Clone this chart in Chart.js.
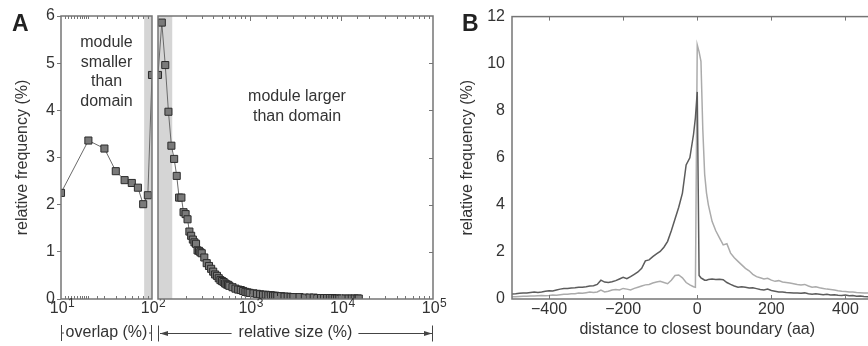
<!DOCTYPE html>
<html>
<head>
<meta charset="utf-8">
<script src="https://cdn.jsdelivr.net/npm/chart.js@4.4.0/dist/chart.umd.min.js"></script>
<style>
  html, body { margin: 0; padding: 0; background: #fff; }
  #wrap { position: relative; width: 868px; height: 346px; overflow: hidden; }
  canvas { position: absolute; top: 0; }
  #aLeft, #aRight { left: 0; }
  #b { left: 450px; }
</style>
</head>
<body>
<div id="wrap">
  <canvas id="aLeft" width="460" height="346"></canvas>
  <canvas id="aRight" width="460" height="346"></canvas>
  <canvas id="b" width="450" height="346"></canvas>
</div>
<script>
/* ======================================
        DATA
========================================*/
// panel A, left part: overlap (%)
const overlapPct  = [10, 20, 30, 40, 50, 60, 70, 80, 90, 100];
const overlapFreq = [2.25, 3.36, 3.19, 2.71, 2.52, 2.46, 2.36, 2.01, 2.20, 4.75];

// panel A, right part: relative size (%)
const sizePct = [100, 110, 120, 130, 140, 150, 160, 170, 180, 190,
  200, 210, 220, 230, 240, 250, 260, 270, 280, 290,
  300, 320, 340, 360, 380, 400, 420, 440, 460, 480,
  500, 520, 540, 560, 580, 600, 650, 700, 750, 800,
  850, 900, 950, 1000, 1100, 1200, 1300, 1400, 1500, 1600,
  1700, 1800, 1900, 2000, 2200, 2400, 2600, 2800, 3000, 3500,
  4000, 4500, 5000, 5500, 6000, 6500, 7000, 7500, 8000, 8500,
  9000, 9500, 10000, 11000, 12000, 13000, 14000, 15000, 15500];
const sizeFreq = [4.75, 5.86, 4.96, 3.97, 3.25, 2.97, 2.61, 2.15, 2.15, 1.84,
  1.80, 1.69, 1.43, 1.34, 1.26, 1.20, 1.17, 1.03, 1.02, 0.99,
  0.97, 0.88, 0.76, 0.70, 0.64, 0.58, 0.52, 0.49, 0.44, 0.40,
  0.38, 0.36, 0.33, 0.31, 0.30, 0.28, 0.25, 0.22, 0.20, 0.19,
  0.17, 0.15, 0.14, 0.13, 0.12, 0.11, 0.10, 0.09, 0.09, 0.08,
  0.08, 0.07, 0.07, 0.06, 0.06, 0.05, 0.05, 0.04, 0.04, 0.04,
  0.03, 0.03, 0.03, 0.02, 0.02, 0.02, 0.02, 0.02, 0.02, 0.01,
  0.01, 0.01, 0.01, 0.01, 0.01, 0.01, 0.01, 0.01, 0.01];

const overlapBand = [82, 100];
const sizeBand = [100, 143];

const freqTicks = [0, 1, 2, 3, 4, 5, 6];
const overlapTickVals = [10, 100];
const overlapTickExp = ['1', '2'];
const sizeTickVals = [1000, 10000, 100000];
const sizeTickExp = ['3', '4', '5'];

// panel B: distance to closest boundary (aa)
const distAA = [-500, -490, -480, -470, -460, -450, -440, -430, -420, -410,
  -400, -390, -380, -370, -360, -350, -340, -330, -320, -310,
  -300, -290, -280, -270, -260, -250, -240, -230, -220, -210,
  -200, -190, -180, -170, -160, -150, -140, -130, -120, -110,
  -100, -90, -80, -70, -60, -50, -40, -30, -20, -10,
  -5, 0, 5, 10, 15, 20, 25, 30, 40, 50,
  60, 70, 80, 90, 100, 110, 120, 130, 140, 150,
  160, 170, 180, 190, 200, 210, 220, 230, 240, 250,
  260, 270, 280, 290, 300, 310, 320, 330, 340, 350,
  360, 370, 380, 390, 400, 410, 420, 430, 440, 450,
  460, 470, 480, 490, 500];
const distDark = [0.21, 0.22, 0.24, 0.25, 0.26, 0.28, 0.30, 0.28, 0.30, 0.33,
  0.35, 0.34, 0.38, 0.42, 0.45, 0.45, 0.47, 0.48, 0.50, 0.50,
  0.52, 0.55, 0.56, 0.62, 0.80, 0.72, 0.70, 0.73, 0.78, 0.85,
  0.92, 0.86, 0.95, 1.05, 1.15, 1.30, 1.62, 1.66, 1.80, 1.92,
  2.02, 2.20, 2.45, 2.90, 3.40, 3.90, 4.50, 5.70, 6.00, 7.00,
  7.70, 8.80, 1.00, 0.90, 0.85, 0.80, 0.80, 0.83, 0.85, 0.83,
  0.84, 0.82, 0.70, 0.62, 0.55, 0.50, 0.52, 0.50, 0.47, 0.48,
  0.44, 0.40, 0.38, 0.42, 0.36, 0.33, 0.30, 0.30, 0.28, 0.27,
  0.25, 0.26, 0.24, 0.26, 0.22, 0.20, 0.22, 0.20, 0.18, 0.20,
  0.17, 0.18, 0.16, 0.15, 0.17, 0.14, 0.15, 0.12, 0.13, 0.11,
  0.10, 0.12, 0.09, 0.08, 0.08];
const distLight = [0.10, 0.10, 0.11, 0.12, 0.12, 0.13, 0.13, 0.14, 0.15, 0.14,
  0.15, 0.17, 0.16, 0.18, 0.20, 0.20, 0.22, 0.22, 0.25, 0.24,
  0.27, 0.30, 0.28, 0.30, 0.38, 0.30, 0.33, 0.38, 0.40, 0.38,
  0.45, 0.42, 0.38, 0.45, 0.50, 0.55, 0.60, 0.62, 0.68, 0.72,
  0.75, 0.70, 0.65, 0.80, 1.00, 1.02, 0.90, 0.70, 0.60, 0.52,
  0.50, 10.80, 10.50, 10.10, 7.20, 5.30, 4.50, 4.00, 3.30, 2.90,
  2.60, 2.30, 2.35, 1.95, 1.75, 1.60, 1.45, 1.30, 1.20, 1.05,
  0.95, 0.90, 0.85, 0.88, 0.80, 0.75, 0.78, 0.72, 0.70, 0.68,
  0.65, 0.62, 0.60, 0.62, 0.55, 0.50, 0.52, 0.48, 0.45, 0.42,
  0.40, 0.38, 0.35, 0.33, 0.32, 0.30, 0.30, 0.28, 0.27, 0.26,
  0.25, 0.24, 0.22, 0.22, 0.20];
const distTicks = [-400, -200, 0, 200, 400];
const distFreqTicks = [0, 2, 4, 6, 8, 10, 12];

/* ======================================
        COMMON STUFF
========================================*/
const FONT = '"Liberation Sans", Arial, Helvetica, sans-serif';
const ink = '#333';
const frameColor = '#757575';
Chart.defaults.font.family = FONT;
Chart.defaults.font.size = 16;
Chart.defaults.color = ink;

const pts = (xs, ys) => xs.map((x, i) => ({ x: x, y: ys[i] }));
const fixTicks = vals => s => { s.ticks = vals.map(v => ({ value: v })); };

const markerSet = {
  borderColor: '#6a6a6a', borderWidth: 1,
  pointStyle: 'rect', pointRadius: 5,
  pointBackgroundColor: '#7a7a7a', pointBorderColor: '#2b2b2b', pointBorderWidth: 1
};

function drawFrame(chart) {
  const { ctx, chartArea: a } = chart;
  ctx.save();
  ctx.strokeStyle = frameColor;
  ctx.lineWidth = 1.5;
  ctx.strokeRect(a.left, a.top, a.right - a.left, a.bottom - a.top);
  ctx.restore();
}

function drawLogTicks(chart) {
  const { ctx, chartArea: a, scales: { x } } = chart;
  ctx.save();
  ctx.strokeStyle = frameColor;
  ctx.lineWidth = 1;
  x.ticks.forEach(t => {
    const p = Math.round(x.getPixelForValue(t.value)) + 0.5;
    if (p <= a.left + 1 || p >= a.right - 1) return;
    const e = Math.log10(t.value);
    const len = Math.abs(e - Math.round(e)) < 1e-6 ? 5 : 3;
    ctx.beginPath();
    ctx.moveTo(p, a.bottom); ctx.lineTo(p, a.bottom - len);
    ctx.moveTo(p, a.top); ctx.lineTo(p, a.top + len);
    ctx.stroke();
  });
  ctx.restore();
}

// tick labels like 10^3 with a real raised exponent
function drawPowerLabels(chart, vals, exps) {
  const { ctx, scales: { x } } = chart;
  ctx.save();
  ctx.fillStyle = ink;
  ctx.textBaseline = 'alphabetic';
  ctx.textAlign = 'left';
  vals.forEach((v, i) => {
    const p = x.getPixelForValue(v);
    ctx.font = '16px ' + FONT;
    const wb = ctx.measureText('10').width;
    ctx.font = '12px ' + FONT;
    const we = ctx.measureText(exps[i]).width;
    const start = p - (wb + we) / 2 + 1;
    ctx.font = '16px ' + FONT;
    ctx.fillText('10', start, 313);
    ctx.font = '12px ' + FONT;
    ctx.fillText(exps[i], start + wb + 0.5, 306.5);
  });
  ctx.restore();
}

function drawBand(chart, band) {
  const { ctx, chartArea: a, scales: { x } } = chart;
  const x0 = x.getPixelForValue(band[0]), x1 = x.getPixelForValue(band[1]);
  ctx.save();
  ctx.fillStyle = '#d5d5d5';
  ctx.fillRect(x0, a.top, x1 - x0, a.bottom - a.top);
  ctx.restore();
}

function textLines(ctx, lines, cx, y0, step) {
  ctx.save();
  ctx.fillStyle = ink;
  ctx.font = '16px ' + FONT;
  ctx.textAlign = 'center';
  ctx.textBaseline = 'middle';
  lines.forEach((l, i) => ctx.fillText(l, cx, y0 + i * step));
  ctx.restore();
}

function panelLetter(ctx, letter, x, y) {
  ctx.save();
  ctx.fillStyle = '#222';
  ctx.font = 'bold 23px ' + FONT;
  ctx.textBaseline = 'alphabetic';
  ctx.fillText(letter, x, y);
  ctx.restore();
}

function vbar(ctx, x, y) {
  ctx.beginPath();
  ctx.moveTo(x, y - 8); ctx.lineTo(x, y + 8);
  ctx.stroke();
}

function arrowHead(ctx, x, y, dir) {
  ctx.beginPath();
  ctx.moveTo(x, y);
  ctx.lineTo(x - dir * 8, y - 2.5);
  ctx.lineTo(x - dir * 8, y + 2.5);
  ctx.closePath();
  ctx.fill();
}

const baseOpts = {
  responsive: false,
  animation: false,
  events: [],
  plugins: { legend: { display: false }, tooltip: { enabled: false } }
};

const logX = (min, max) => ({
  type: 'logarithmic', min: min, max: max,
  grid: { display: false, drawTicks: false },
  border: { display: false },
  ticks: { autoSkip: false, maxRotation: 0, minRotation: 0, padding: 1, callback: () => '' },
  afterFit: s => { s.height = 47; }
});

/* ======================================
        PANEL A - OVERLAP PART
========================================*/
const chartAL = new Chart(document.getElementById('aLeft'), {
  type: 'line',
  data: { datasets: [Object.assign({ data: pts(overlapPct, overlapFreq) }, markerSet)] },
  options: Object.assign({}, baseOpts, {
    layout: { padding: { top: 16, right: 308, left: 0, bottom: 0 } },
    scales: {
      x: logX(10, 100),
      y: {
        min: 0, max: 6,
        afterBuildTicks: fixTicks(freqTicks),
        grid: { display: true, drawOnChartArea: false, drawTicks: true, tickLength: 4, color: frameColor },
        border: { display: false },
        ticks: { padding: 2 },
        title: { display: true, text: 'relative frequency (%)', padding: { top: 13 } },
        afterFit: s => { s.width = 61; }
      }
    }
  }),
  plugins: [{
    id: 'overlapDeco',
    beforeDatasetsDraw: c => drawBand(c, overlapBand),
    afterDraw: c => {
      const ctx = c.ctx, a = c.chartArea;
      drawFrame(c);
      drawLogTicks(c);
      drawPowerLabels(c, overlapTickVals, overlapTickExp);
      panelLetter(ctx, 'A', 12, 31);
      textLines(ctx, ['module', 'smaller', 'than', 'domain'], (a.left + a.right) / 2, 43, 19.5);
      // bottom label
      ctx.save();
      ctx.strokeStyle = '#444'; ctx.fillStyle = ink; ctx.lineWidth = 1;
      const y = 333;
      vbar(ctx, a.left + 0.5, y);
      vbar(ctx, a.right - 0.5, y);
      ctx.beginPath();
      ctx.moveTo(a.left, y); ctx.lineTo(a.left + 3, y);
      ctx.moveTo(a.right - 3, y); ctx.lineTo(a.right, y);
      ctx.stroke();
      ctx.font = '16px ' + FONT;
      ctx.textAlign = 'center'; ctx.textBaseline = 'middle';
      ctx.fillText('overlap (%)', (a.left + a.right) / 2, y);
      ctx.restore();
    }
  }]
});

/* ======================================
        PANEL A - RELATIVE SIZE PART
========================================*/
const chartAR = new Chart(document.getElementById('aRight'), {
  type: 'line',
  data: { datasets: [Object.assign({ data: pts(sizePct, sizeFreq) }, markerSet)] },
  options: Object.assign({}, baseOpts, {
    layout: { padding: { top: 16, right: 27, left: 158, bottom: 0 } },
    scales: {
      x: logX(100, 100000),
      y: { display: false, min: 0, max: 6 }
    }
  }),
  plugins: [{
    id: 'sizeDeco',
    beforeDatasetsDraw: c => drawBand(c, sizeBand),
    afterDraw: c => {
      const ctx = c.ctx, a = c.chartArea, ys = c.scales.y;
      drawFrame(c);
      drawLogTicks(c);
      drawPowerLabels(c, sizeTickVals, sizeTickExp);
      ctx.save();
      ctx.strokeStyle = frameColor; ctx.lineWidth = 1;
      freqTicks.forEach(v => {
        const p = Math.round(ys.getPixelForValue(v)) + 0.5;
        if (p <= a.top + 1 || p >= a.bottom - 1) return;
        ctx.beginPath(); ctx.moveTo(a.right, p); ctx.lineTo(a.right - 4, p); ctx.stroke();
      });
      ctx.restore();
      textLines(ctx, ['module larger', 'than domain'], 297, 97, 19.5);
      // bottom label with arrows
      ctx.save();
      ctx.strokeStyle = '#444'; ctx.fillStyle = ink; ctx.lineWidth = 1;
      const y = 333.5;
      const txt = 'relative size (%)';
      ctx.font = '16px ' + FONT;
      const cx = (a.left + a.right) / 2, w = ctx.measureText(txt).width;
      vbar(ctx, a.left + 0.5, y);
      vbar(ctx, a.right - 0.5, y);
      ctx.beginPath();
      ctx.moveTo(a.left + 2, y); ctx.lineTo(cx - w / 2 - 7, y);
      ctx.moveTo(cx + w / 2 + 6, y); ctx.lineTo(a.right - 1, y);
      ctx.stroke();
      ctx.fillStyle = '#444';
      arrowHead(ctx, a.left + 2, y, -1);
      arrowHead(ctx, a.right - 1, y, 1);
      ctx.fillStyle = ink;
      ctx.textAlign = 'center'; ctx.textBaseline = 'middle';
      ctx.fillText(txt, cx, y - 0.5);
      ctx.restore();
    }
  }]
});

/* ======================================
        PANEL B
========================================*/
const chartB = new Chart(document.getElementById('b'), {
  type: 'line',
  data: {
    datasets: [
      { data: pts(distAA, distDark), borderColor: '#5c5c5c', borderWidth: 1.5, pointRadius: 0 },
      { data: pts(distAA, distLight), borderColor: '#ababab', borderWidth: 1.5, pointRadius: 0 }
    ]
  },
  options: Object.assign({}, baseOpts, {
    layout: { padding: { top: 16, right: 17.5, left: 0, bottom: 0 } },
    scales: {
      x: {
        type: 'linear', min: -500, max: 500,
        afterBuildTicks: fixTicks(distTicks),
        grid: { display: false, drawTicks: false },
        border: { display: false },
        ticks: { maxRotation: 0, padding: 1,
          callback: v => (v < 0 ? '\u2212' + Math.abs(v) : String(v)) },
        title: { display: true, text: 'distance to closest boundary (aa)', padding: { bottom: 7 } },
        afterFit: s => { s.height = 47; }
      },
      y: {
        min: 0, max: 12,
        afterBuildTicks: fixTicks(distFreqTicks),
        grid: { display: false, drawTicks: false },
        border: { display: false },
        ticks: { padding: 7 },
        title: { display: true, text: 'relative frequency (%)', padding: { top: 8 } },
        afterFit: s => { s.width = 62; }
      }
    }
  }),
  plugins: [{
    id: 'bDeco',
    afterDraw: c => {
      const ctx = c.ctx, a = c.chartArea, xs = c.scales.x;
      drawFrame(c);
      ctx.save();
      ctx.strokeStyle = frameColor; ctx.lineWidth = 1;
      distTicks.forEach(v => {
        const p = Math.round(xs.getPixelForValue(v)) + 0.5;
        ctx.beginPath();
        ctx.moveTo(p, a.bottom); ctx.lineTo(p, a.bottom - 4);
        ctx.moveTo(p, a.top); ctx.lineTo(p, a.top + 4);
        ctx.stroke();
      });
      ctx.restore();
      panelLetter(ctx, 'B', 12, 31);
    }
  }]
});
</script>
</body>
</html>
